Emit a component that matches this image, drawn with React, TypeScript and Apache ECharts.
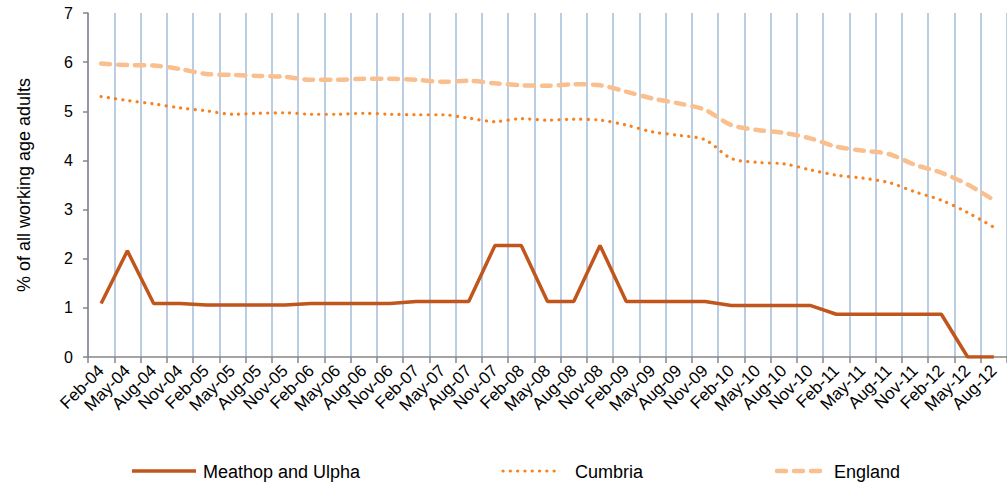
import React, { useEffect, useRef } from "react";
import * as echarts from "echarts";

const categories = [
  "Feb-04", "May-04", "Aug-04", "Nov-04",
  "Feb-05", "May-05", "Aug-05", "Nov-05",
  "Feb-06", "May-06", "Aug-06", "Nov-06",
  "Feb-07", "May-07", "Aug-07", "Nov-07",
  "Feb-08", "May-08", "Aug-08", "Nov-08",
  "Feb-09", "May-09", "Aug-09", "Nov-09",
  "Feb-10", "May-10", "Aug-10", "Nov-10",
  "Feb-11", "May-11", "Aug-11", "Nov-11",
  "Feb-12", "May-12", "Aug-12",
];

const meathop = [
  1.09, 2.16, 1.09, 1.09, 1.06, 1.06, 1.06, 1.06, 1.09, 1.09, 1.09, 1.09,
  1.13, 1.13, 1.13, 2.27, 2.27, 1.13, 1.13, 2.27, 1.13, 1.13, 1.13, 1.13,
  1.05, 1.05, 1.05, 1.05, 0.87, 0.87, 0.87, 0.87, 0.87, 0, 0,
];

const cumbria = [
  5.30, 5.22, 5.15, 5.07, 5.01, 4.94, 4.96, 4.97, 4.94, 4.94, 4.96, 4.94,
  4.93, 4.93, 4.86, 4.79, 4.85, 4.82, 4.84, 4.82, 4.72, 4.58, 4.51, 4.42,
  4.04, 3.96, 3.93, 3.81, 3.70, 3.64, 3.55, 3.36, 3.19, 2.94, 2.64,
];

const england = [
  5.97, 5.94, 5.93, 5.86, 5.76, 5.74, 5.72, 5.70, 5.64, 5.64, 5.66, 5.66,
  5.64, 5.60, 5.62, 5.57, 5.53, 5.52, 5.55, 5.53, 5.40, 5.26, 5.16, 5.03,
  4.72, 4.62, 4.56, 4.45, 4.28, 4.20, 4.13, 3.91, 3.75, 3.51, 3.19,
];

const seriesNames = ["Meathop and Ulpha", "Cumbria", "England"];
const yTicks = { min: 0, max: 7, interval: 1 };
const yName = "% of all working age adults";

const FONT = "'Liberation Sans', Arial, sans-serif";
const C_MEATHOP = "#c0561c";
const C_CUMBRIA = "#f7821f";
const C_ENGLAND = "#fabf8f";

const STYLE_MEATHOP = { stroke: C_MEATHOP, lineWidth: 3.5 };
const STYLE_CUMBRIA = { stroke: C_CUMBRIA, lineWidth: 3.2, lineDash: [0.1, 7.2], lineCap: "round" };
const STYLE_ENGLAND = { stroke: C_ENGLAND, lineWidth: 4.5, lineDash: [9, 8], lineCap: "round" };

function legendItem(x1: number, x2: number, textX: number, name: string, style: any) {
  const y = 471;
  return [
    { type: "line", shape: { x1, y1: y, x2, y2: y }, style },
    {
      type: "text",
      x: textX,
      y: y + 1,
      style: {
        text: name,
        fill: "#000",
        font: `18px ${FONT}`,
        verticalAlign: "middle",
        align: "left",
      },
    },
  ];
}

export default function App() {
  const ref = useRef<HTMLDivElement>(null);

  useEffect(() => {
    if (!ref.current) return;
    const chart = echarts.init(ref.current, null, { renderer: "svg" });
    chart.setOption({
      animation: false,
      backgroundColor: "#fff",
      textStyle: { fontFamily: FONT },
      grid: { left: 88, top: 13, width: 922, height: 344, containLabel: false },
      graphic: [
        ...legendItem(132, 196, 203, seriesNames[0], STYLE_MEATHOP),
        ...legendItem(503, 555, 575, seriesNames[1], STYLE_CUMBRIA),
        ...legendItem(777, 824, 834, seriesNames[2], STYLE_ENGLAND),
      ],
      xAxis: {
        type: "category",
        data: categories,
        boundaryGap: true,
        axisLine: { show: true, lineStyle: { color: "#868686", width: 1.5 } },
        axisTick: { show: true, interval: 0, length: 6, lineStyle: { color: "#868686", width: 1.5 } },
        splitLine: { show: true, interval: 0, lineStyle: { color: "#b9cde5", width: 2 } },
        axisLabel: {
          interval: 0,
          rotate: 45,
          margin: 11,
          fontSize: 17,
          color: "#000",
          fontFamily: FONT,
        },
      },
      yAxis: {
        type: "value",
        min: yTicks.min,
        max: yTicks.max,
        interval: yTicks.interval,
        name: yName,
        nameLocation: "middle",
        nameGap: 55,
        nameRotate: 90,
        nameTextStyle: { fontSize: 18, color: "#000", fontFamily: FONT },
        axisLine: { show: true, lineStyle: { color: "#868686", width: 1.5 } },
        axisTick: { show: true, length: 5, lineStyle: { color: "#868686", width: 1.5 } },
        splitLine: { show: false },
        axisLabel: { fontSize: 16, color: "#000", margin: 15, fontFamily: FONT },
      },
      series: [
        {
          name: seriesNames[2],
          type: "line",
          data: england,
          symbol: "none",
          smooth: 0.3,
          z: 2,
          lineStyle: { color: C_ENGLAND, width: 4.5, type: [9, 8], cap: "round" },
        },
        {
          name: seriesNames[1],
          type: "line",
          data: cumbria,
          symbol: "none",
          smooth: 0.3,
          z: 3,
          lineStyle: { color: C_CUMBRIA, width: 3.2, type: [0.1, 7.2], cap: "round" },
        },
        {
          name: seriesNames[0],
          type: "line",
          data: meathop,
          symbol: "none",
          smooth: false,
          z: 4,
          lineStyle: { color: C_MEATHOP, width: 3.5 },
        },
      ],
    });
    return () => chart.dispose();
  }, []);

  return (
    <div
      ref={ref}
      style={{ position: "fixed", left: 0, top: 0, width: 1007, height: 488, background: "#fff" }}
    />
  );
}
